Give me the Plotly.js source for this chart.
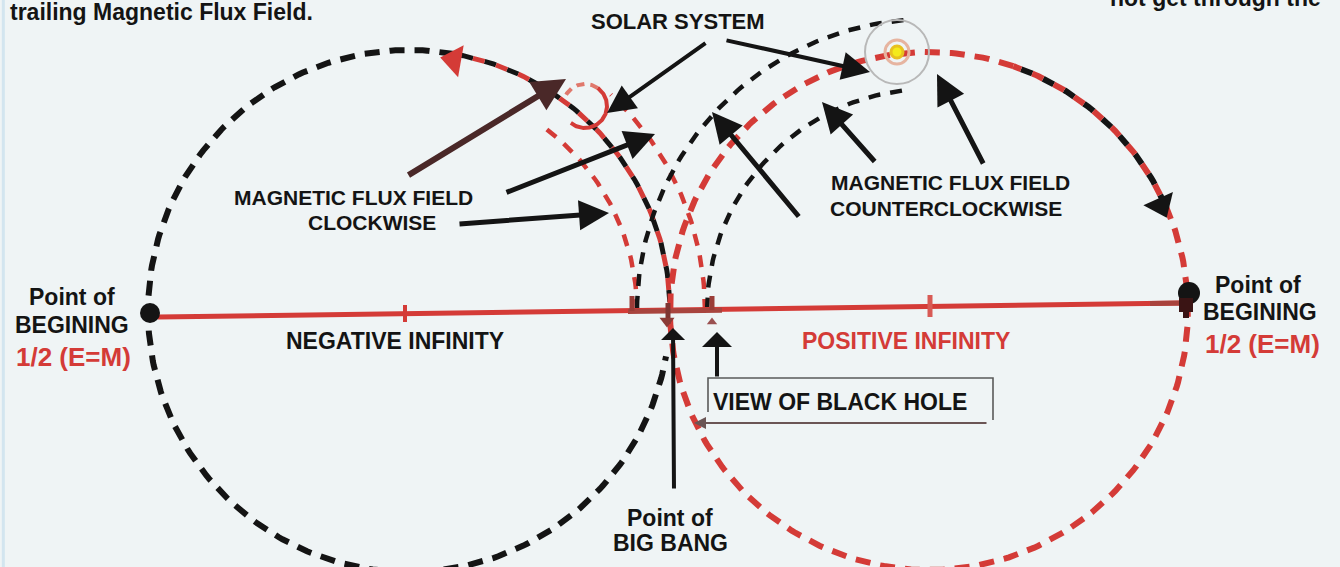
<!DOCTYPE html>
<html><head><meta charset="utf-8">
<script src="https://cdn.plot.ly/plotly-3.0.1.min.js"></script>
<style>html,body{margin:0;padding:0;background:#eff4f5;}#chart{width:1340px;height:567px;}</style>
</head><body><div id="chart"></div>
<script>
// ---------- geometry data (pixel-space diagram coordinates) ----------
const RED = '#d43b37', BLACK = '#141414', BROWN = '#4a2828', RBROWN = '#9a3c37';

// arcs: centre, radius, start/end angle (deg, counter-clockwise), style
const arcCx    = [409, 409, 409, 929, 929, 929, 409, 409, 929, 929, 585, 585];
const arcCy    = [311, 311, 311, 311, 311, 311, 311, 311, 311, 311, 106, 106];
const arcR     = [261, 261, 261, 259, 259, 259, 228, 296, 292, 222, 22, 22];
const arcStart = [80, 2, 2, 71, 24, 24, 0, 0, 95, 97, -130, 55];
const arcEnd   = [350, 80, 80, 384, 71, 71, 53, 47, 180, 180, 55, 150];
const arcColor = [BLACK, BLACK, RED, RED, BLACK, RED, RED, RED, BLACK, BLACK, RED, '#e0786c'];
const arcWidth = [6, 5, 5, 6, 6, 6, 4.5, 4.5, 4.5, 4.5, 4, 4];
const arcDash  = ['15px,10px', '12px,12px', '0px,12px,12px,0px', '15px,10px', '12px,12px', '0px,12px,12px,0px',
                  '12px,10px', '12px,10px', '12px,10px', '12px,10px', 'solid', '8px,6px'];

// straight segments (horizontal "infinity" axis and ticks)
const segX0 = [158, 628, 1150, 405, 930, 632, 712, 668, 1186];
const segY0 = [317, 311.5, 303.5, 305, 295, 296, 296, 303, 300];
const segX1 = [1183, 722, 1183, 405, 930, 632, 712, 668, 1186];
const segY1 = [303, 310.2, 303, 322, 317, 311, 310, 324, 318];
const segColor = [RED, '#a8443e', '#a8423c', RED, '#d85a55', RBROWN, RBROWN, '#7e3532', '#3a1414'];
const segWidth = [5, 5, 5, 4, 5, 5, 5, 5, 6];

// point markers
const ptX = [150, 1189, 1186, 667, 712, 454, 1161];
const ptY = [313, 293, 305, 321, 322, 60, 205];
const ptSymbol = ['circle', 'circle', 'square', 'triangle-down', 'triangle-up', 'triangle-up', 'triangle-up'];
const ptSize = [20, 22, 14, 13, 9, 28, 28];
const ptAngle = [0, 0, 0, 0, 0, -80, 156];
const ptColor = [BLACK, BLACK, '#3a1414', '#8b3a36', '#9a5050', RED, BLACK];

// solar system (right) rings
const ringX = [897, 897, 897];
const ringY = [52, 52, 52];
const ringR = [32, 12, 6];
const ringLine = ['#b8b8b8', '#e6b4a0', '#e8c020'];
const ringFill = ['rgba(0,0,0,0)', 'rgba(0,0,0,0)', '#f4ea1a'];

// arrows: tail -> tip
const arrTailX = [707, 725, 407, 505, 458, 800, 876, 984, 674, 717, 988];
const arrTailY = [42, 40, 176, 193, 224, 218, 163, 165, 490, 378, 423];
const arrTipX  = [607, 870, 566, 655, 609, 712, 822, 937, 673, 717, 694];
const arrTipY  = [113, 72, 79, 134, 213, 112, 102, 74, 328, 332, 423];
const arrColor = [BLACK, BLACK, BROWN, BLACK, BLACK, BLACK, BLACK, BLACK, BLACK, BLACK, '#6b5555'];
const arrWidth = [4, 4, 6, 5, 5, 5, 5, 5, 4, 4, 2];
const arrHead  = [2, 2, 2, 2, 2, 2, 2, 2, 1, 1, 2];
const arrSize  = [1.4, 1.4, 1.1, 1.2, 1.2, 1.2, 1.2, 1.2, 1.0, 1.25, 1.2];

// text labels
const labelText = ['trailing Magnetic Flux Field.', 'not get through the', 'SOLAR SYSTEM',
  'MAGNETIC FLUX FIELD', 'CLOCKWISE', 'MAGNETIC FLUX FIELD', 'COUNTERCLOCKWISE',
  'Point of', 'BEGINING', '1/2 (E=M)', 'Point of', 'BEGINING', '1/2 (E=M)',
  'NEGATIVE INFINITY', 'POSITIVE INFINITY', 'VIEW OF BLACK HOLE', 'Point of', 'BIG BANG'];
const labelX = [8, 1323, 678, 353, 372, 950, 946, 72, 72, 73, 1258, 1260, 1262, 395, 906, 840, 670, 670];
const labelY = [11.5, -2, 21, 197.5, 222.5, 182.5, 208.5, 296.5, 325, 357, 285, 312, 344, 341, 341, 402, 518, 543];
const labelAnchor = ['left', 'right', 'center', 'center', 'center', 'center', 'center', 'center', 'center', 'center',
  'center', 'center', 'center', 'center', 'center', 'center', 'center', 'center'];
const labelSize = [23, 23, 22, 21, 21, 21, 21, 23, 23, 26, 23, 23, 26, 23, 23, 23, 23, 23];
const labelColor = [BLACK, BLACK, BLACK, BLACK, BLACK, BLACK, BLACK, BLACK, BLACK, RED, BLACK, BLACK, RED,
  BLACK, RED, BLACK, BLACK, BLACK];

// box around "VIEW OF BLACK HOLE"
const boxX = [708, 708, 993, 993];
const boxY = [412, 378, 378, 420];

// ---------- build ----------
const FONT = 'Liberation Sans, Arial, Helvetica, sans-serif';
const traces = [];

function arcPts(cx, cy, r, a0, a1) {
  const n = Math.max(2, Math.ceil(Math.abs(a1 - a0)));
  const xs = [], ys = [];
  for (let i = 0; i <= n; i++) {
    const a = (a0 + (a1 - a0) * i / n) * Math.PI / 180;
    xs.push(cx + r * Math.cos(a));
    ys.push(cy - r * Math.sin(a));
  }
  return [xs, ys];
}

// box
traces.push({x: boxX, y: boxY, mode: 'lines', line: {color: '#5a5a5a', width: 1.6}, hoverinfo: 'skip'});

arcCx.forEach((cx, i) => {
  const [xs, ys] = arcPts(cx, arcCy[i], arcR[i], arcStart[i], arcEnd[i]);
  traces.push({x: xs, y: ys, mode: 'lines', hoverinfo: 'skip',
    line: {color: arcColor[i], width: arcWidth[i], dash: arcDash[i]}});
});

segX0.forEach((x0, i) => {
  traces.push({x: [x0, segX1[i]], y: [segY0[i], segY1[i]], mode: 'lines', hoverinfo: 'skip',
    line: {color: segColor[i], width: segWidth[i]}});
});

traces.push({x: ptX, y: ptY, mode: 'markers', hoverinfo: 'skip',
  marker: {symbol: ptSymbol, size: ptSize, angle: ptAngle, color: ptColor, opacity: 1, line: {width: 0}}});

const shapes = ringX.map((x, i) => ({type: 'circle', xref: 'x', yref: 'y',
  x0: x - ringR[i], x1: x + ringR[i], y0: ringY[i] - ringR[i], y1: ringY[i] + ringR[i],
  line: {color: ringLine[i], width: i === 0 ? 2 : 3}, fillcolor: ringFill[i]}));
shapes.push({type: 'line', xref: 'paper', yref: 'paper', x0: 0.0025, x1: 0.0025, y0: 0, y1: 1,
  line: {color: '#d3e5ef', width: 3}});

const annotations = [];
arrTailX.forEach((tx, i) => {
  annotations.push({xref: 'x', yref: 'y', axref: 'x', ayref: 'y',
    x: arrTipX[i], y: arrTipY[i], ax: tx, ay: arrTailY[i], text: '', showarrow: true,
    arrowhead: arrHead[i], arrowsize: arrSize[i], arrowwidth: arrWidth[i], arrowcolor: arrColor[i], standoff: 0});
});
labelText.forEach((t, i) => {
  const ann = {xref: 'x', yref: 'y', x: labelX[i], y: labelY[i], text: '<b>' + t + '</b>', showarrow: false,
    xanchor: labelAnchor[i], yanchor: 'middle',
    font: {family: FONT, size: labelSize[i], color: labelColor[i]}};
  if (labelY[i] < 0) { ann.y = 4; ann.yshift = 6; }
  annotations.push(ann);
});

const layout = {
  width: 1340, height: 567, margin: {l: 0, r: 0, t: 0, b: 0},
  paper_bgcolor: '#eff4f5', plot_bgcolor: '#eff4f5', showlegend: false,
  xaxis: {range: [0, 1340], visible: false, fixedrange: true},
  yaxis: {range: [567, 0], visible: false, fixedrange: true},
  shapes: shapes, annotations: annotations
};
Plotly.newPlot('chart', traces, layout, {staticPlot: true, displayModeBar: false});
</script></body></html>
